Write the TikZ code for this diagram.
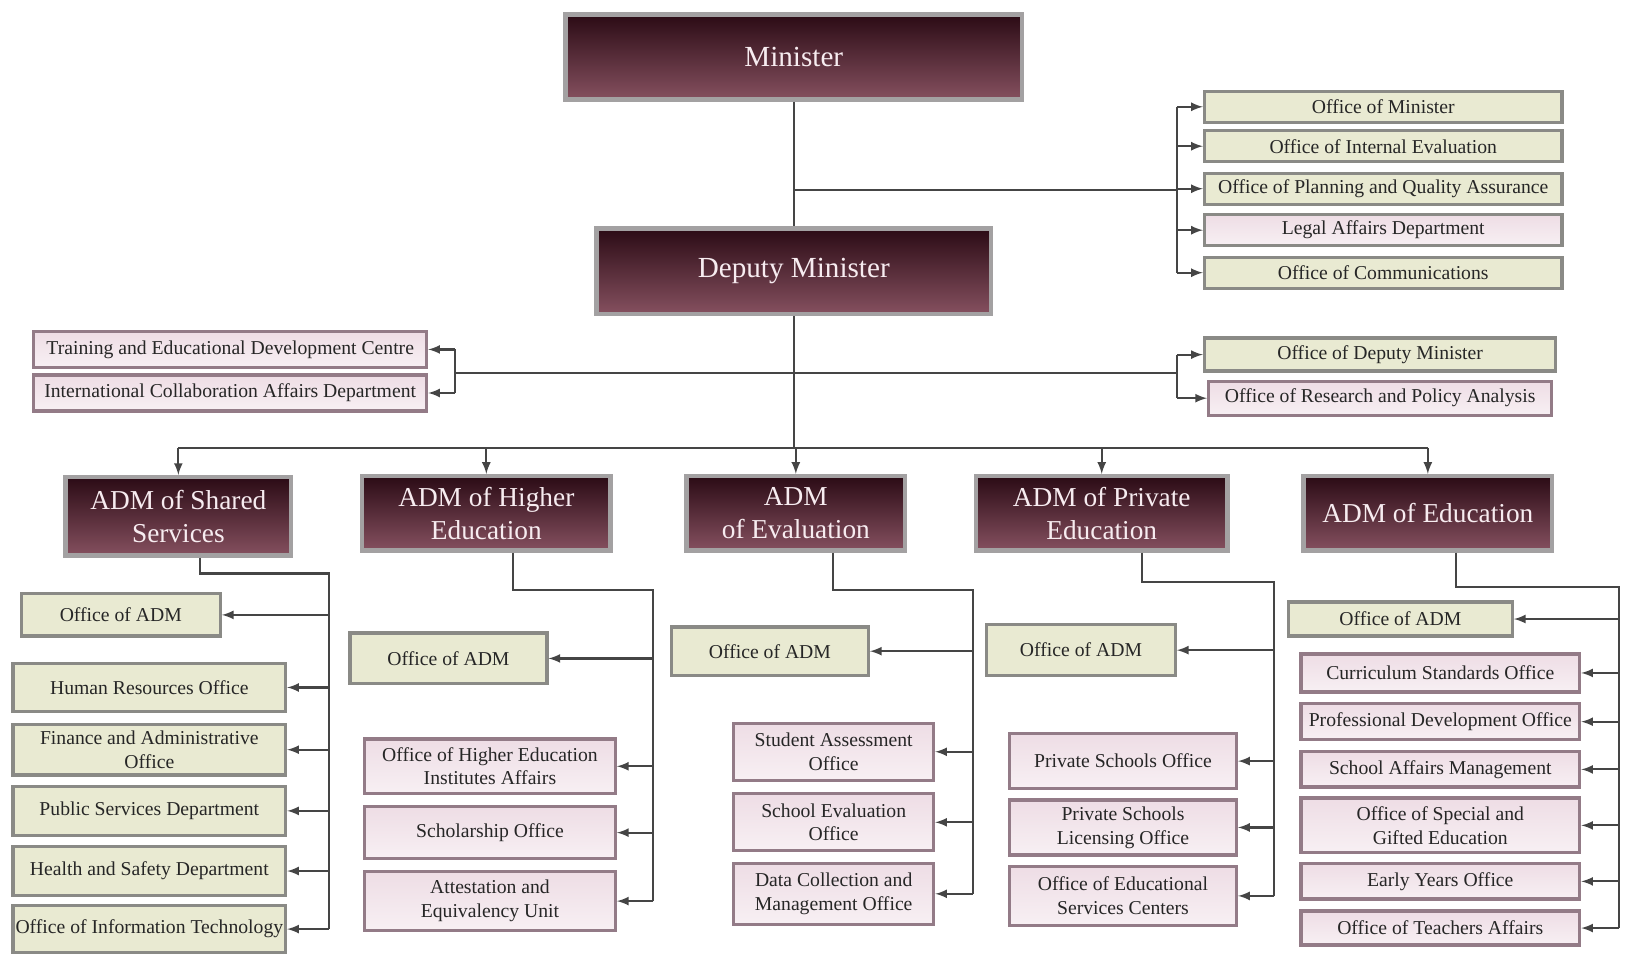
\documentclass[tikz,border=0pt]{standalone}
\usepackage{fontspec}
\setmainfont{Liberation Serif}
\usepackage{xcolor}
\usepackage{tikz}
\usetikzlibrary{arrows}

\definecolor{hdtop}{HTML}{2B0B15}
\definecolor{hdbot}{HTML}{85505F}
\definecolor{hdrim}{HTML}{A3A1A2}
\definecolor{hdtext}{HTML}{F7ECF0}
\definecolor{gfill}{HTML}{E9EAD2}
\definecolor{grim}{HTML}{8A8A86}
\definecolor{pfill}{HTML}{EEDDE5}
\definecolor{prim}{HTML}{937B87}
\definecolor{wire}{HTML}{454545}

\begin{document}
\begin{tikzpicture}[x=0.02cm, y=-0.02cm, >=latex,
                    hd/.style n args={2}{rectangle, draw=hdrim,
                    line width=2.5pt, top color=hdtop, bottom color=hdbot,
                    text=hdtext, align=center, inner sep=0pt,
                    minimum width=#1*0.02cm-2.5pt,
                    minimum height=#2*0.02cm-2.5pt,
                    font=\fontsize{15}{18}\selectfont},
                    gb/.style n args={2}{rectangle, draw=grim,
                    line width=1.8pt, fill=gfill, text=black!85,
                    align=center, inner sep=0pt,
                    minimum width=#1*0.02cm-1.8pt,
                    minimum height=#2*0.02cm-1.8pt,
                    font=\fontsize{10.8}{13}\selectfont},
                    pb/.style n args={2}{gb={#1}{#2}, draw=prim,
                    top color=pfill, bottom color=pfill!45!white},
                    wire/.style={draw=wire, line width=1.2pt},
                    arr/.style={wire, ->}]
    \useasboundingbox (0,0) rectangle (1571,932);

    \node[hd={445}{86}, font=\fontsize{16}{19}\selectfont](min) at (765.5,55) {Minister};
    \node[hd={385}{87}, font=\fontsize{16}{19}\selectfont](dep) at (765.5,261.5) {Deputy Minister};

    \node[gb={348}{33}](om1) at (1334,103) {Office of Minister};
    \node[gb={348}{33}](om2) at (1334,141) {Office of Internal Evaluation};
    \node[gb={348}{33}](om3) at (1334,182) {Office of Planning and Quality Assurance};
    \node[pb={348}{33}, draw=grim](om4) at (1334,222) {Legal Affairs Department};
    \node[gb={348}{33}](om5) at (1334,263) {Office of Communications};

    \node[pb={382}{38}](tr) at (222,337) {Training and Educational Development Centre};
    \node[pb={382}{38}](ic) at (222,379) {International Collaboration Affairs Department};
    \node[gb={342}{35}](od) at (1331,342) {Office of Deputy Minister};
    \node[pb={334}{36}](orp) at (1331,384) {Office of Research and Policy Analysis};

    \node[hd={222}{80}](a1) at (172,498) {ADM of Shared\\Services};
    \node[hd={244}{76}](a2) at (469,495) {ADM of Higher\\Education};
    \node[hd={215}{76}](a3) at (767.5,495) {ADM\\of Evaluation};
    \node[hd={247}{76}](a4) at (1062.5,495) {ADM of Private\\Education};
    \node[hd={244}{76}](a5) at (1377,495) {ADM of Education};

    \node[gb={195}{44}](sh0) at (116.5,593) {Office of ADM};
    \node[gb={266}{50}](sh1) at (144,663) {Human Resources Office};
    \node[gb={266}{52}](sh2) at (144,723) {Finance and Administrative\\Office};
    \node[gb={266}{50}](sh3) at (144,782) {Public Services Department};
    \node[gb={266}{50}](sh4) at (144,840) {Health and Safety Department};
    \node[gb={266}{48}](sh5) at (144,896) {Office of Information Technology};

    \node[gb={193}{52}](hi0) at (432.5,635) {Office of ADM};
    \node[pb={245}{56}](hi1) at (472.5,739) {Office of Higher Education\\Institutes Affairs};
    \node[pb={245}{53}](hi2) at (472.5,803) {Scholarship Office};
    \node[pb={245}{60}](hi3) at (472.5,869) {Attestation and\\Equivalency Unit};

    \node[gb={193}{50}](ev0) at (742.5,628) {Office of ADM};
    \node[pb={196}{58}](ev1) at (804,725) {Student Assessment\\Office};
    \node[pb={196}{58}](ev2) at (804,793) {School Evaluation\\Office};
    \node[pb={196}{62}](ev3) at (804,862) {Data Collection and\\Management Office};

    \node[gb={185}{52}](pr0) at (1042.5,627) {Office of ADM};
    \node[pb={222}{56}](pr1) at (1083,734) {Private Schools Office};
    \node[pb={222}{56}](pr2) at (1083,798) {Private Schools\\Licensing Office};
    \node[pb={222}{60}](pr3) at (1083,864) {Office of Educational\\Services Centers};

    \node[gb={219}{36}](ed0) at (1350.5,597) {Office of ADM};
    \node[pb={272}{40}](ed1) at (1389,649) {Curriculum Standards Office};
    \node[pb={272}{38}](ed2) at (1389,696) {Professional Development Office};
    \node[pb={272}{37}](ed3) at (1389,742) {School Affairs Management};
    \node[pb={272}{56}](ed4) at (1389,796) {Office of Special and\\Gifted Education};
    \node[pb={272}{37}](ed5) at (1389,850) {Early Years Office};
    \node[pb={272}{36}](ed6) at (1389,895) {Office of Teachers Affairs};

    \coordinate (j0) at (1135,183);
    \coordinate (jl) at (439,360);
    \coordinate (jr) at (1135,360);
    \coordinate (bus) at (0,432);
    \coordinate (b1) at (317,553);
    \coordinate (b2) at (630,569);
    \coordinate (b3) at (938,569);
    \coordinate (b4) at (1229,561);
    \coordinate (b5) at (1561,566);

    \draw[wire] (min) -- (dep)
                (min |- j0) -- (j0)
                (j0 |- om1) -- (j0 |- om5);
    \foreach \n in {om1,om2,om3,om4,om5}
        \draw[arr] (j0 |- \n) -- (\n.west);

    \draw[wire] (dep) -- (dep |- bus)
                (jl) -- (jr)
                (jl |- tr) -- (jl |- ic)
                (jr |- od) -- (jr |- orp)
                (a1 |- bus) -- (a5 |- bus);
    \foreach \n in {tr,ic}
        \draw[arr] (jl |- \n) -- (\n.east);
    \foreach \n in {od,orp}
        \draw[arr] (jr |- \n) -- (\n.west);
    \foreach \n in {a1,a2,a3,a4,a5}
        \draw[arr] (\n |- bus) -- (\n.north);

    \draw[wire] ([xshift=0.42cm]a1.south) |- (b1) -- (b1 |- sh5);
    \foreach \n in {sh0,sh1,sh2,sh3,sh4,sh5}
        \draw[arr] (b1 |- \n) -- (\n.east);

    \draw[wire] ([xshift=0.52cm]a2.south) |- (b2) -- (b2 |- hi3);
    \foreach \n in {hi0,hi1,hi2,hi3}
        \draw[arr] (b2 |- \n) -- (\n.east);

    \draw[wire] ([xshift=0.71cm]a3.south) |- (b3) -- (b3 |- ev3);
    \foreach \n in {ev0,ev1,ev2,ev3}
        \draw[arr] (b3 |- \n) -- (\n.east);

    \draw[wire] ([xshift=0.77cm]a4.south) |- (b4) -- (b4 |- pr3);
    \foreach \n in {pr0,pr1,pr2,pr3}
        \draw[arr] (b4 |- \n) -- (\n.east);

    \draw[wire] ([xshift=0.54cm]a5.south) |- (b5) -- (b5 |- ed6);
    \foreach \n in {ed0,ed1,ed2,ed3,ed4,ed5,ed6}
        \draw[arr] (b5 |- \n) -- (\n.east);
\end{tikzpicture}
\end{document}
